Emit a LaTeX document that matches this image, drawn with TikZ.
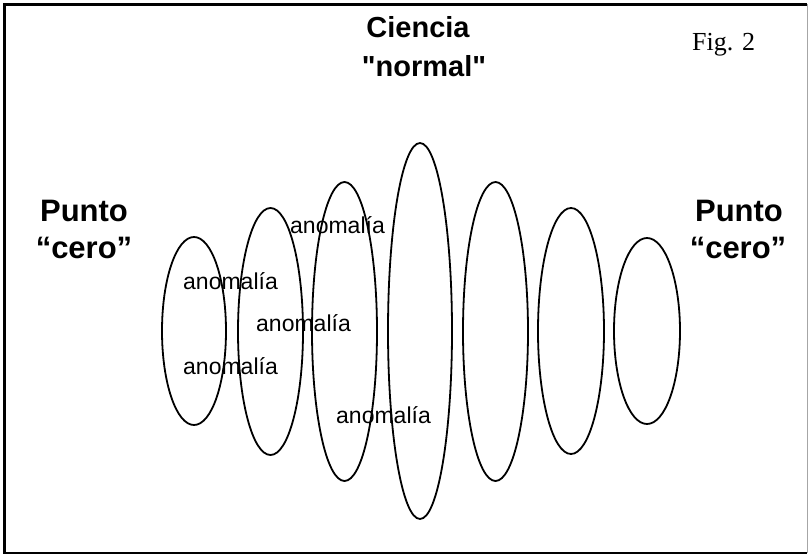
\documentclass[tikz,border=0pt]{standalone}
\usepackage{fontspec}
\newfontfamily\arialf{Liberation Sans}
\newfontfamily\timesf{Liberation Serif}
\usetikzlibrary{shapes.geometric}
\begin{document}
\begin{tikzpicture}[x=1pt,y=-1pt,
  oval/.style={draw, ellipse, inner sep=0pt, line width=1.8pt},
  anom/.style={font=\arialf\fontsize{23}{25}\selectfont, inner sep=0pt, anchor=base west},
  head/.style={font=\arialf\bfseries\fontsize{29}{31}\selectfont, inner sep=0pt, anchor=base},
  side/.style={font=\arialf\bfseries\fontsize{31}{33}\selectfont, inner sep=0pt, anchor=base}]
\useasboundingbox (0,0) rectangle (809,556);
% frame
\draw[line width=2.6pt] (807,4.5) -- (4.5,4.5) -- (4.5,553) -- (807,553);
\draw[line width=0.8pt, black!35] (807,4.5) -- (807,553);
% ellipses
\node[oval, minimum width=64pt, minimum height=188pt] (e1) at (194,331) {};
\node[oval, minimum width=65pt, minimum height=247pt] (e2) at (270.5,331.5) {};
\node[oval, minimum width=65pt, minimum height=299pt] (e3) at (344.5,331.5) {};
\node[oval, minimum width=64pt, minimum height=376pt] (e4) at (420,331) {};
\node[oval, minimum width=65pt, minimum height=299pt] (e5) at (495.5,331.5) {};
\node[oval, minimum width=66pt, minimum height=246pt] (e6) at (571,331) {};
\node[oval, minimum width=66pt, minimum height=186pt] (e7) at (647,331) {};
% anomalia labels
\node[anom] (a1) at (290,234) {anomalía};
\node[anom] (a2) at (183,290) {anomalía};
\node[anom] (a3) at (256,331) {anomalía};
\node[anom] (a4) at (183,374) {anomalía};
\node[anom] (a5) at (336,423) {anomalía};
% headings
\node[head] (c1) at (418,38) {Ciencia};
\node[head] (c2) at (424,77) {"normal"};
\node[font=\timesf\fontsize{26}{28}\selectfont, inner sep=0pt, anchor=base west] (fig) at (692,51) {Fig. 2};
\node[side] (p1) at (84,222) {Punto};
\node[side] (z1) at (84,259) {“cero”};
\node[side] (p2) at (739,222) {Punto};
\node[side] (z2) at (738,259) {“cero”};
\end{tikzpicture}
\end{document}
